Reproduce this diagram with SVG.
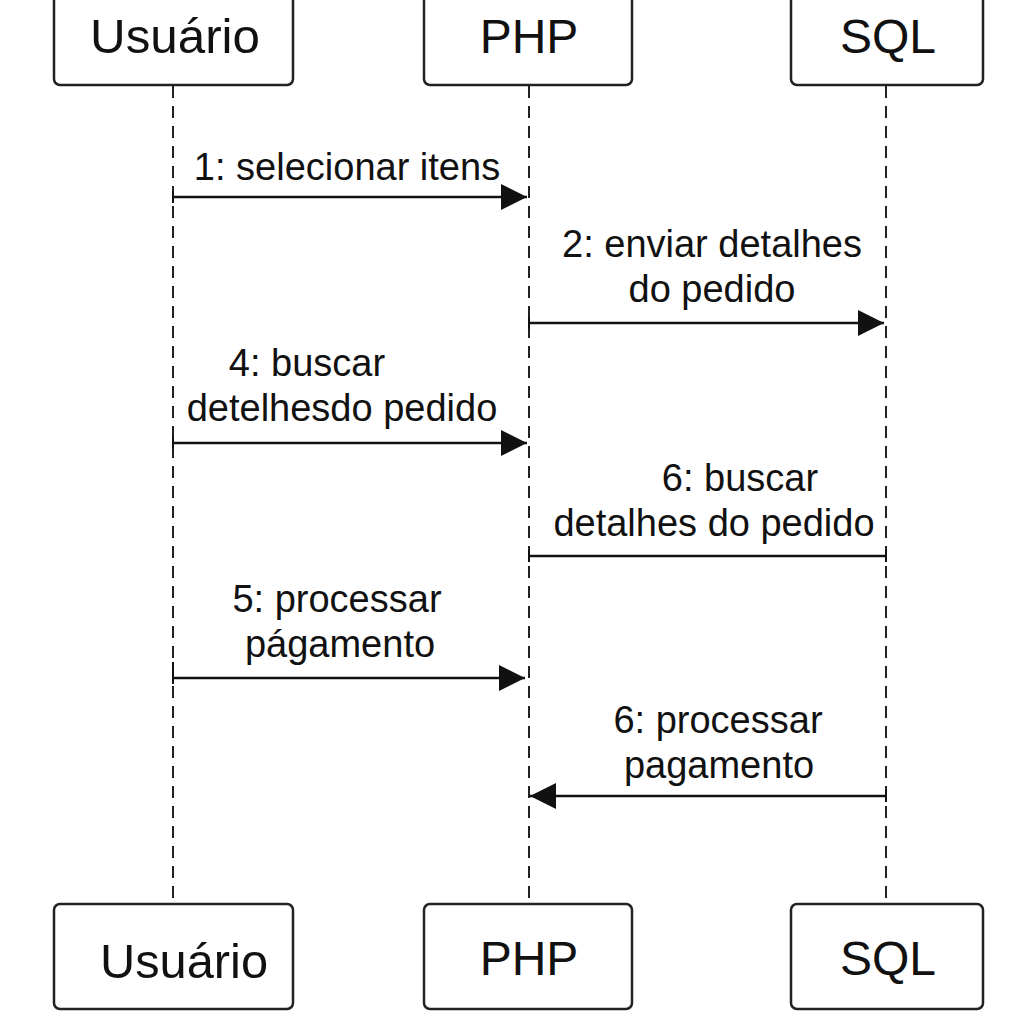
<svg xmlns="http://www.w3.org/2000/svg" width="1024" height="1024" viewBox="0 0 1024 1024">
<style>
.box{fill:#fff;stroke:#222;stroke-width:2.5}
.bt{font-family:"Liberation Sans",Arial,sans-serif;font-size:48px;fill:#111;text-anchor:middle}
.life{stroke:#222;stroke-width:2;stroke-dasharray:12 8;fill:none}
.msg{stroke:#111;stroke-width:2.5;fill:none}
.tick{stroke:#111;stroke-width:2}
.lbl{font-family:"Liberation Sans",Arial,sans-serif;font-size:38px;fill:#111;text-anchor:middle}
</style>
<defs>
<marker id="arr" viewBox="0 0 26 26" refX="26" refY="13" markerWidth="26" markerHeight="26" markerUnits="userSpaceOnUse" orient="auto">
<path d="M0,0 L26,13 L0,26 Z" fill="#111"/>
</marker>
</defs>
<rect width="1024" height="1024" fill="#fff"/>
<g id="lifelines">
<line class="life" x1="173" y1="86" x2="173" y2="904"/>
<line class="life" x1="529" y1="86" x2="529" y2="904"/>
<line class="life" x1="886" y1="86" x2="886" y2="904"/>
</g>
<g id="usuario-top"><rect class="box" x="54" y="-6" width="239" height="91" rx="6"/><text class="bt" x="175" y="53" textLength="170" lengthAdjust="spacingAndGlyphs" font-size="52">Usuário</text></g>
<g id="php-top"><rect class="box" x="424" y="-6" width="208" height="91" rx="6"/><text class="bt" x="529" y="53">PHP</text></g>
<g id="sql-top"><rect class="box" x="791" y="-6" width="192" height="91" rx="6"/><text class="bt" x="888" y="53">SQL</text></g>
<g id="usuario-bottom"><rect class="box" x="54" y="904" width="239" height="105" rx="6"/><text class="bt" x="184" y="978" textLength="168" lengthAdjust="spacingAndGlyphs" font-size="52">Usuário</text></g>
<g id="php-bottom"><rect class="box" x="424" y="904" width="208" height="105" rx="6"/><text class="bt" x="529" y="975">PHP</text></g>
<g id="sql-bottom"><rect class="box" x="791" y="904" width="192" height="105" rx="6"/><text class="bt" x="888" y="975">SQL</text></g>
<g id="connectors">
<line class="msg" x1="173" y1="197" x2="527" y2="197" marker-end="url(#arr)"/>
<line class="tick" x1="173" y1="191" x2="173" y2="203"/>
<line class="msg" x1="529" y1="323" x2="884" y2="323" marker-end="url(#arr)"/>
<line class="tick" x1="529" y1="317" x2="529" y2="329"/>
<line class="msg" x1="173" y1="443" x2="527" y2="443" marker-end="url(#arr)"/>
<line class="tick" x1="173" y1="437" x2="173" y2="449"/>
<line class="msg" x1="529" y1="556" x2="886" y2="556"/>
<line class="tick" x1="529" y1="550" x2="529" y2="562"/>
<line class="tick" x1="886" y1="550" x2="886" y2="562"/>
<line class="msg" x1="173" y1="678" x2="525" y2="678" marker-end="url(#arr)"/>
<line class="tick" x1="173" y1="662" x2="173" y2="684"/>
<line class="msg" x1="886" y1="796" x2="530" y2="796" marker-end="url(#arr)"/>
<line class="tick" x1="886" y1="790" x2="886" y2="802"/>
</g>
<g id="labels">
<text class="lbl" x="347" y="180">1: selecionar itens</text>
<text class="lbl" x="712" y="257">2: enviar detalhes</text>
<text class="lbl" x="712" y="302">do pedido</text>
<text class="lbl" x="307" y="376">4: buscar</text>
<text class="lbl" x="342" y="421">detelhesdo pedido</text>
<text class="lbl" x="740" y="491">6: buscar</text>
<text class="lbl" x="714" y="536">detalhes do pedido</text>
<text class="lbl" x="337" y="612">5: processar</text>
<text class="lbl" x="340" y="657">págamento</text>
<text class="lbl" x="718" y="733">6: processar</text>
<text class="lbl" x="719" y="778">pagamento</text>
</g>
</svg>
